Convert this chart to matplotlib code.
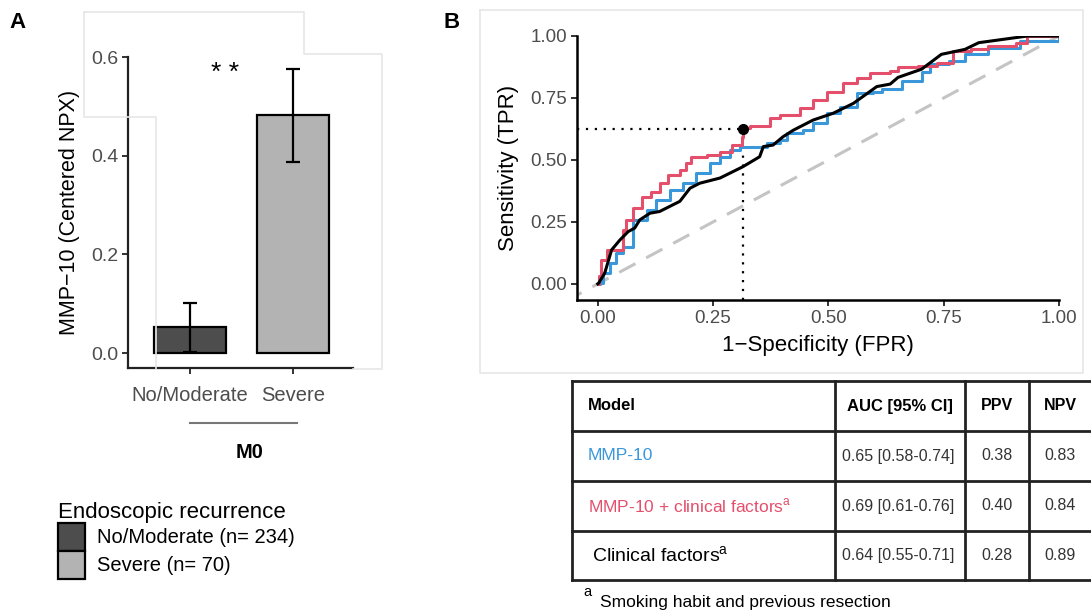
import numpy as np
import matplotlib
matplotlib.use('Agg')
import matplotlib.pyplot as plt
from matplotlib.lines import Line2D
from matplotlib.patches import Patch

plt.rcParams['font.family'] = ['Liberation Sans', 'DejaVu Sans']
plt.rcParams['mathtext.fontset'] = 'custom'
plt.rcParams['mathtext.rm'] = 'Liberation Sans'

W, H = 1091, 613

# panel A data
groups = ['No/Moderate', 'Severe']
means = [0.053, 0.483]
err_lo = [0.003, 0.387]
err_hi = [0.101, 0.575]
legend_labels = ['No/Moderate (n= 234)', 'Severe (n= 70)']
bar_colors = ['#4D4D4D', '#B3B3B3']

# panel B ROC data
fpr_mmp = [0.0, 0.004, 0.011, 0.026, 0.04, 0.055, 0.077, 0.106, 0.127, 0.156, 0.185,
           0.214, 0.243, 0.265, 0.286, 0.308, 0.351, 0.366, 0.395, 0.41, 0.445, 0.467,
           0.496, 0.525, 0.561, 0.597, 0.617, 0.66, 0.702, 0.72, 0.762, 0.796, 0.847,
           0.915, 1.0]
tpr_mmp = [0.0, 0.003, 0.043, 0.083, 0.124, 0.15, 0.258, 0.298, 0.339, 0.379, 0.406,
           0.446, 0.486, 0.513, 0.54, 0.554, 0.554, 0.567, 0.58, 0.608, 0.62, 0.648,
           0.688, 0.715, 0.769, 0.775, 0.786, 0.82, 0.853, 0.886, 0.9, 0.926, 0.953,
           0.98, 1.0]
fpr_comb = [0.0, 0.002, 0.008, 0.019, 0.055, 0.062, 0.076, 0.095, 0.116, 0.134, 0.152,
            0.178, 0.192, 0.203, 0.236, 0.265, 0.29, 0.312, 0.314, 0.33, 0.373, 0.395,
            0.438, 0.467, 0.496, 0.532, 0.561, 0.59, 0.634, 0.65, 0.694, 0.736, 0.77,
            0.81, 0.847, 0.906, 0.93, 1.0]
tpr_comb = [0.0, 0.03, 0.097, 0.137, 0.218, 0.258, 0.306, 0.352, 0.372, 0.407, 0.44,
            0.46, 0.486, 0.513, 0.52, 0.533, 0.56, 0.594, 0.628, 0.635, 0.668, 0.681,
            0.708, 0.742, 0.775, 0.81, 0.83, 0.85, 0.86, 0.873, 0.88, 0.893, 0.94,
            0.946, 0.96, 0.973, 1.0, 1.0]
fpr_clin = [0.0, 0.002, 0.015, 0.03, 0.048, 0.066, 0.08, 0.091, 0.113, 0.134, 0.178,
            0.2, 0.221, 0.265, 0.315, 0.351, 0.359, 0.38, 0.402, 0.424, 0.467, 0.51,
            0.554, 0.605, 0.634, 0.651, 0.702, 0.745, 0.796, 0.826, 0.881, 0.932, 1.0]
tpr_clin = [0.0, 0.003, 0.043, 0.137, 0.177, 0.211, 0.225, 0.258, 0.285, 0.292, 0.333,
            0.386, 0.406, 0.427, 0.473, 0.513, 0.554, 0.56, 0.594, 0.62, 0.661, 0.688,
            0.728, 0.796, 0.806, 0.833, 0.866, 0.926, 0.946, 0.973, 0.987, 1.0, 1.0]
cut_fpr, cut_tpr = 0.315, 0.624

# table data
models = ['MMP-10', 'MMP-10 + clinical factors$^{\\mathrm{a}}$', 'Clinical factors$^{\\mathrm{a}}$']
auc_ci = ['0.65 [0.58-0.74]', '0.69 [0.61-0.76]', '0.64 [0.55-0.71]']
ppv = ['0.38', '0.40', '0.28']
npv = ['0.83', '0.84', '0.89']
model_colors = ['#3A97DA', '#E4506C', 'black']

def fx(x):
    return x / W

def fy(y):
    return 1 - y / H

fig = plt.figure(figsize=(W / 100, H / 100), dpi=100)

# faint outlines from the original composite
faint = dict(color='#E6E6E6', lw=1.2, transform=fig.transFigure)
for xs, ys in [([84, 304, 304, 382, 382, 353], [12, 12, 54, 54, 369, 369]),
               ([84, 84, 156, 156], [12, 117, 117, 369]),
               ([480, 1083, 1083, 480, 480], [10, 10, 373, 373, 10])]:
    fig.add_artist(Line2D([fx(v) for v in xs], [fy(v) for v in ys], **faint))

grey = '#4D4D4D'

# ---- panel A ----
ax = fig.add_axes([fx(128), fy(368), fx(353 - 128), (368 - 57) / H])
ax.set_facecolor('none')
pos = np.arange(len(groups))
ax.bar(pos, means, 0.7, color=bar_colors, edgecolor='black', linewidth=1.6)
yerr = [np.array(means) - np.array(err_lo), np.array(err_hi) - np.array(means)]
ax.errorbar(pos, means, yerr=yerr, fmt='none', ecolor='black', elinewidth=1.6,
            capsize=5, capthick=1.6)
ax.set_xlim(-0.6, 1.58)
ax.set_ylim(-0.03, 0.6)
ax.set_yticks([0.0, 0.2, 0.4, 0.6])
ax.set_yticklabels(['0.0', '0.2', '0.4', '0.6'])
ax.set_xticks(pos)
ax.set_xticklabels(groups, fontsize=14.5, color=grey)
ax.tick_params(axis='y', labelsize=14, labelcolor=grey)
ax.tick_params(length=4, width=1.4, color='#333333', pad=3)
ax.tick_params(axis='x', pad=9)
for s in ['top', 'right']:
    ax.spines[s].set_visible(False)
for s in ['left', 'bottom']:
    ax.spines[s].set_linewidth(1.6)
    ax.spines[s].set_color('#222222')
ax.set_ylabel('MMP\u221210 (Centered NPX)', fontsize=15.5, labelpad=8)
ax.text(0.34, 0.568, '* *', ha='center', va='center', fontsize=19)

fig.add_artist(Line2D([fx(190), fx(297)], [fy(423), fy(423)], color='#777777', lw=1.5,
                      transform=fig.transFigure))
fig.text(fx(250), fy(452), 'M0', ha='center', va='center', fontsize=14.5, fontweight='bold')
fig.text(fx(18), fy(22), 'A', ha='center', va='center', fontsize=16, fontweight='bold')

handles = [Patch(facecolor=c, edgecolor='black', linewidth=1.6) for c in bar_colors]
fig.legend(handles, legend_labels, loc='upper left', bbox_to_anchor=(fx(58), fy(502)),
           title='Endoscopic recurrence', title_fontsize=16, fontsize=14.5,
           alignment='left', frameon=False, handlelength=1.35, handleheight=1.75,
           labelspacing=0.0, handletextpad=0.6, borderpad=0, borderaxespad=0)

# ---- panel B ----
bx = fig.add_axes([fx(577), fy(300), fx(1059 - 577), (300 - 36) / H])
bx.set_facecolor('none')
bx.set_xlim(-0.045, 1.0)
bx.set_ylim(-0.065, 1.0)
bx.plot([-0.07, 1.0], [-0.07, 1.0], color='#C4C4C4', lw=2.2, dashes=(6, 4))
bx.plot([-0.045, cut_fpr], [cut_tpr, cut_tpr], color='black', lw=1.6, ls=(0, (1, 3)))
bx.plot([cut_fpr, cut_fpr], [-0.065, cut_tpr], color='black', lw=1.6, ls=(0, (1, 3)))
bx.plot(fpr_mmp, tpr_mmp, color=model_colors[0], lw=2.2, drawstyle='steps-post')
bx.plot(fpr_comb, tpr_comb, color=model_colors[1], lw=2.2, drawstyle='steps-post')
bx.plot(fpr_clin, tpr_clin, color='black', lw=2.2)
bx.plot([cut_fpr], [cut_tpr], 'o', color='black', ms=7)
ticks = [0.0, 0.25, 0.5, 0.75, 1.0]
bx.set_xticks(ticks)
bx.set_yticks(ticks)
bx.set_xticklabels(['%.2f' % t for t in ticks])
bx.set_yticklabels(['%.2f' % t for t in ticks])
bx.tick_params(labelsize=13.5, labelcolor=grey, length=4, width=1.4, color='#333333', pad=3)
for s in ['top', 'right']:
    bx.spines[s].set_visible(False)
for s in ['left', 'bottom']:
    bx.spines[s].set_linewidth(1.8)
    bx.spines[s].set_color('black')
bx.set_xlabel('1\u2212Specificity (FPR)', fontsize=16, labelpad=6)
bx.set_ylabel('Sensitivity (TPR)', fontsize=16, labelpad=8)
fig.text(fx(452), fy(22), 'B', ha='center', va='center', fontsize=16, fontweight='bold')

# ---- table ----
tx = fig.add_axes([fx(572), fy(580), fx(1091 - 572), (580 - 381) / H])
tx.set_xlim(572, 1091)
tx.set_ylim(580, 381)
tx.axis('off')
col_edges = [572, 835, 965, 1029, 1093]
row_edges = [381, 431, 481, 531, 580]
for xe in col_edges:
    tx.plot([xe, xe], [row_edges[0], row_edges[-1]], color='#222222', lw=2, clip_on=False)
for ye in row_edges:
    tx.plot([col_edges[0], col_edges[-1]], [ye, ye], color='#222222', lw=2, clip_on=False)

hy = (row_edges[0] + row_edges[1]) / 2
tx.text(588, hy, 'Model', ha='left', va='center', fontsize=12, fontweight='bold')
tx.text(900, hy, 'AUC [95% CI]', ha='center', va='center', fontsize=12, fontweight='bold')
tx.text(997, hy, 'PPV', ha='center', va='center', fontsize=11.5, fontweight='bold')
tx.text(1060, hy, 'NPV', ha='center', va='center', fontsize=11.5, fontweight='bold')
model_sizes = [12.5, 12.5, 14]
for i in range(len(models)):
    yc = (row_edges[i + 1] + row_edges[i + 2]) / 2
    tx.text(588 if i < 2 else 592, yc, models[i], ha='left', va='center',
            fontsize=model_sizes[i], color=model_colors[i])
    tx.text(898, yc, auc_ci[i], ha='center', va='center', fontsize=11.5, color='#333333')
    tx.text(997, yc, ppv[i], ha='center', va='center', fontsize=11.5, color='#333333')
    tx.text(1060, yc, npv[i], ha='center', va='center', fontsize=11.5, color='#333333')

fig.text(fx(587), fy(592), 'a', ha='center', va='center', fontsize=10.5)
fig.text(fx(600), fy(602), 'Smoking habit and previous resection', ha='left', va='center',
         fontsize=12.5)

fig.savefig('out.png', dpi=100)
